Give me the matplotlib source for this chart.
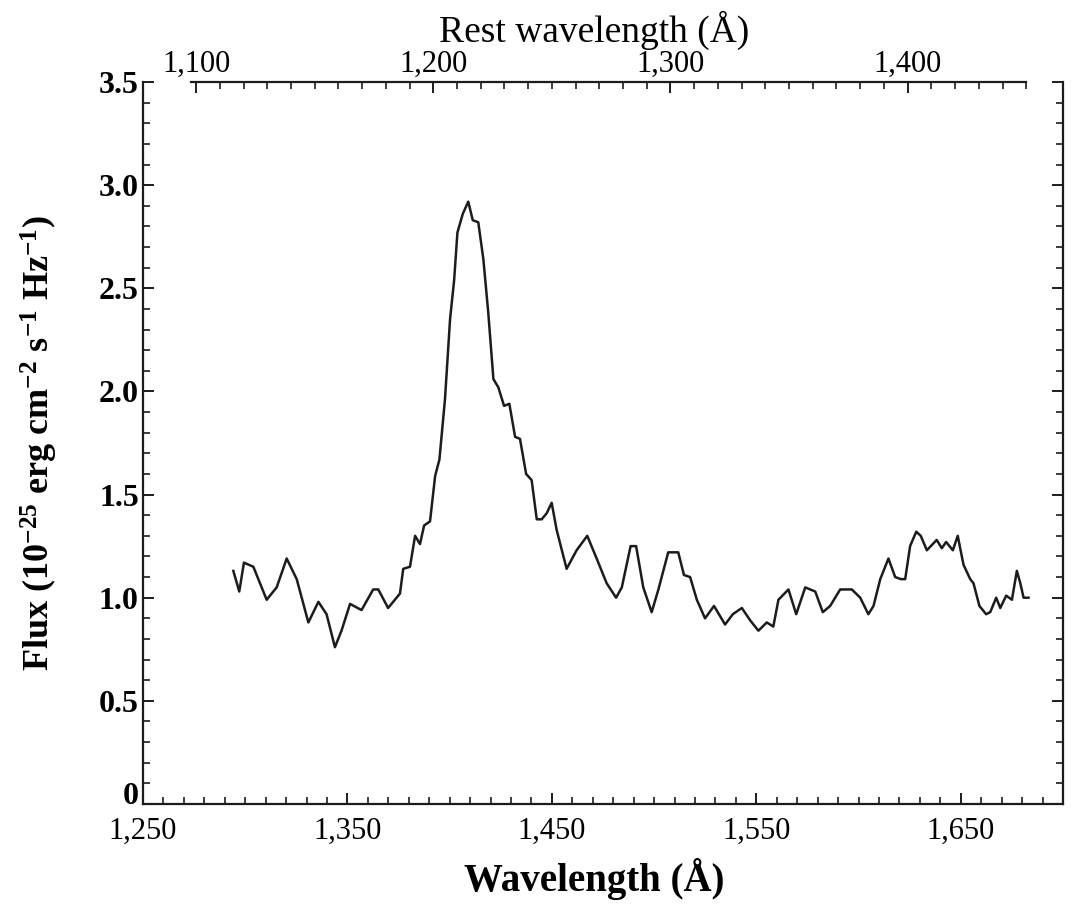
import matplotlib
matplotlib.use("Agg")
import matplotlib.pyplot as plt
from matplotlib.ticker import MultipleLocator, FixedLocator, FuncFormatter

plt.rcParams["font.family"] = ["Liberation Serif", "DejaVu Serif"]
plt.rcParams["mathtext.fontset"] = "custom"
plt.rcParams["mathtext.rm"] = "Liberation Serif"
plt.rcParams["mathtext.it"] = "Liberation Serif:italic"
plt.rcParams["mathtext.bf"] = "Liberation Serif:bold"

wavelength = [
    1294.2, 1297.1, 1299.4, 1304.0, 1310.5, 1315.4, 1320.3, 1325.2, 1330.9, 1335.8,
    1339.8, 1343.9, 1347.1, 1351.3, 1356.9, 1362.6, 1365.1, 1369.9, 1375.7, 1377.3,
    1380.6, 1383.1, 1385.5, 1387.5, 1390.4, 1392.9, 1395.0, 1397.7, 1400.2, 1402.2,
    1403.8, 1406.4, 1409.1, 1411.3, 1414.0, 1416.5, 1418.9, 1421.4, 1423.8, 1426.6,
    1429.2, 1432.0, 1434.4, 1437.4, 1440.1, 1442.6, 1445.0, 1447.5, 1449.9, 1452.3,
    1457.2, 1462.1, 1467.3, 1471.9, 1476.8, 1481.4, 1484.2, 1488.5, 1491.2, 1494.7,
    1498.8, 1502.1, 1506.9, 1511.8, 1514.6, 1517.6, 1520.9, 1524.9, 1529.3, 1534.7,
    1538.5, 1542.9, 1547.0, 1551.0, 1555.1, 1558.3, 1560.8, 1565.7, 1569.5, 1573.9,
    1578.8, 1582.5, 1586.1, 1591.0, 1596.7, 1600.8, 1604.8, 1607.3, 1610.6, 1614.6,
    1617.9, 1620.7, 1622.8, 1625.2, 1628.2, 1630.4, 1633.4, 1638.2, 1640.7, 1642.8,
    1646.1, 1648.5, 1651.3, 1654.6, 1656.2, 1659.1, 1662.4, 1664.4, 1667.3, 1669.3,
    1672.2, 1675.0, 1677.4, 1679.1, 1680.7, 1683.1,
]
flux = [
    1.13, 1.03, 1.17, 1.15, 0.99, 1.05, 1.19, 1.09, 0.88, 0.98,
    0.92, 0.76, 0.84, 0.97, 0.94, 1.04, 1.04, 0.95, 1.02, 1.14,
    1.15, 1.30, 1.26, 1.35, 1.37, 1.59, 1.67, 1.96, 2.35, 2.54,
    2.77, 2.86, 2.92, 2.83, 2.82, 2.64, 2.38, 2.06, 2.02, 1.93,
    1.94, 1.78, 1.77, 1.60, 1.57, 1.38, 1.38, 1.41, 1.46, 1.33,
    1.14, 1.23, 1.30, 1.19, 1.07, 1.00, 1.05, 1.25, 1.25, 1.05,
    0.93, 1.04, 1.22, 1.22, 1.11, 1.10, 0.99, 0.90, 0.96, 0.87,
    0.92, 0.95, 0.89, 0.84, 0.88, 0.86, 0.99, 1.04, 0.92, 1.05,
    1.03, 0.93, 0.96, 1.04, 1.04, 1.00, 0.92, 0.96, 1.09, 1.19,
    1.10, 1.09, 1.09, 1.25, 1.32, 1.30, 1.23, 1.28, 1.24, 1.27,
    1.23, 1.30, 1.16, 1.09, 1.07, 0.96, 0.92, 0.93, 1.00, 0.95,
    1.01, 0.99, 1.13, 1.07, 1.00, 1.00,
]

one_plus_z = 1.16
obs_ticks = [1250, 1350, 1450, 1550, 1650]
rest_ticks = [1100, 1200, 1300, 1400]
flux_ticks = [0, 0.5, 1.0, 1.5, 2.0, 2.5, 3.0, 3.5]
xlim = (1250, 1700)
ylim = (0, 3.5)
rest_span = (1098, 1450)


def comma(v, pos=None):
    return f"{int(round(v)):,}"


def flux_fmt(v, pos=None):
    return "0" if abs(v) < 1e-9 else f"{v:.1f}"


fig = plt.figure(figsize=(10.74, 9.06), dpi=100)
ax = fig.add_axes([0.1331, 0.1126, 0.8567, 0.7969])
ax.plot(wavelength, flux, color="#1c1c1c", lw=1.8)
ax.set_xlim(*xlim)
ax.set_ylim(*ylim)

ax.spines["top"].set_visible(False)
for s in ("left", "right", "bottom"):
    ax.spines[s].set_linewidth(1.6)
    ax.spines[s].set_color("#1c1c1c")

ax.xaxis.set_major_locator(FixedLocator(obs_ticks))
ax.xaxis.set_minor_locator(MultipleLocator(10))
ax.xaxis.set_major_formatter(FuncFormatter(comma))
ax.yaxis.set_major_locator(FixedLocator(flux_ticks))
ax.yaxis.set_minor_locator(MultipleLocator(0.1))
ax.yaxis.set_major_formatter(FuncFormatter(flux_fmt))
ax.tick_params(axis="both", which="both", direction="in", color="#1c1c1c",
               top=False, right=True)
ax.tick_params(which="major", length=8, width=1.4)
ax.tick_params(which="minor", length=5, width=1.2)
ax.tick_params(axis="x", labelsize=22, pad=9)
ax.tick_params(axis="y", labelsize=23, pad=3)
for lbl in ax.get_yticklabels():
    lbl.set_fontweight("bold")
# the "0" sits on the corner, just above the bottom axis
ax.get_yticklabels()[0].set_verticalalignment("baseline")

ax.set_xlabel("Wavelength (Å)", fontsize=28, fontweight="bold")
ax.xaxis.set_label_coords(0.49, -0.075)
ax.set_ylabel(r"Flux (10$^{\mathbf{-25}}$ erg cm$^{\mathbf{-2}}$ s$^{\mathbf{-1}}$ Hz$^{\mathbf{-1}}$)",
              fontsize=26, fontweight="bold")
ax.yaxis.set_label_coords(-0.09, 0.5)

# rest-frame axis on top, drawn only over the span of the data
top = ax.twiny()
top.set_xlim(xlim[0] / one_plus_z, xlim[1] / one_plus_z)
for s in ("left", "right", "bottom"):
    top.spines[s].set_visible(False)
top.spines["top"].set_bounds(*rest_span)
top.spines["top"].set_linewidth(1.6)
top.spines["top"].set_color("#1c1c1c")
top.xaxis.set_major_locator(FixedLocator(rest_ticks))
top.xaxis.set_minor_locator(FixedLocator(
    [v for v in range(rest_span[0] + 2, rest_span[1] + 1, 10)]))
top.xaxis.set_major_formatter(FuncFormatter(comma))
top.tick_params(axis="x", which="both", direction="in", color="#1c1c1c",
                labelsize=22, pad=2)
top.tick_params(which="major", length=8, width=1.4)
top.tick_params(which="minor", length=5, width=1.2)
top.set_xlabel("Rest wavelength (Å)", fontsize=27)
top.xaxis.set_label_coords(0.49, 1.055)

fig.savefig("out.png", dpi=100)
